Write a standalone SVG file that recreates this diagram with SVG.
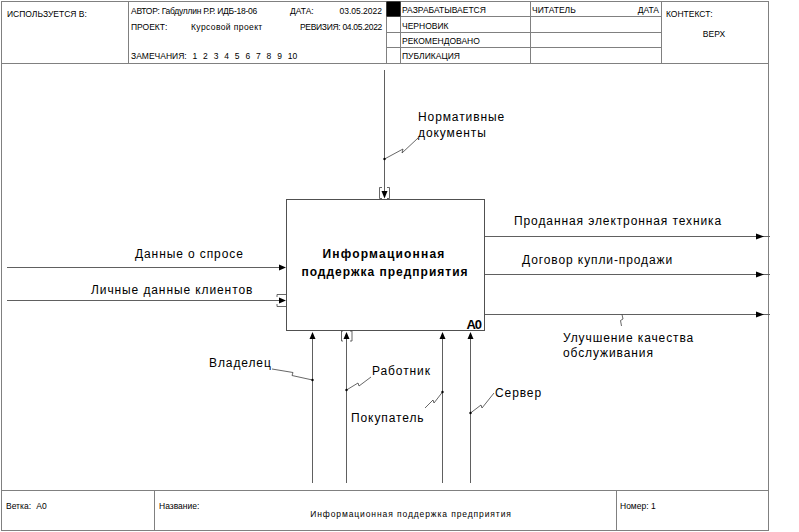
<svg xmlns="http://www.w3.org/2000/svg" width="799" height="532" viewBox="0 0 799 532">
<style>
.fr{fill:none;stroke:#808080;stroke-width:1}
.hd{font-family:"Liberation Sans",Arial,sans-serif;font-size:8.5px;fill:#000}
.lb{font-family:"Liberation Sans",Arial,sans-serif;font-size:12px;letter-spacing:0.9px;fill:#000}
.cn{fill:none;stroke:#606060;stroke-width:1}
.sq{fill:none;stroke:#404040;stroke-width:0.8}
.ah{fill:#000}
.br{fill:none;stroke:#404040;stroke-width:0.8}
</style>
<rect x="0" y="0" width="799" height="532" fill="#fff"/>
<g id="frame">
<rect class="fr" x="1.5" y="1.5" width="767" height="62"/>
<line class="fr" x1="128.5" y1="1.5" x2="128.5" y2="63.5"/>
<line class="fr" x1="386.5" y1="1.5" x2="386.5" y2="63.5"/>
<line class="fr" x1="400.5" y1="1.5" x2="400.5" y2="63.5"/>
<line class="fr" x1="530.5" y1="1.5" x2="530.5" y2="63.5"/>
<line class="fr" x1="661.5" y1="1.5" x2="661.5" y2="63.5"/>
<line class="fr" x1="386.5" y1="16.5" x2="661.5" y2="16.5"/>
<line class="fr" x1="386.5" y1="32.5" x2="661.5" y2="32.5"/>
<line class="fr" x1="386.5" y1="47.5" x2="661.5" y2="47.5"/>
<rect x="386.5" y="1.5" width="14" height="15" fill="#000"/>
<line class="fr" x1="1.5" y1="63.5" x2="1.5" y2="490.5"/>
<line class="fr" x1="768.5" y1="63.5" x2="768.5" y2="490.5"/>
<rect class="fr" x="1.5" y="490.5" width="767" height="40"/>
<line class="fr" x1="154.5" y1="490.5" x2="154.5" y2="530.5"/>
<line class="fr" x1="616.5" y1="490.5" x2="616.5" y2="530.5"/>
<text class="hd" x="7" y="17">ИСПОЛЬЗУЕТСЯ В:</text>
<text class="hd" x="131" y="14" letter-spacing="-0.25">АВТОР: Габдуллин Р.Р. ИДБ-18-06</text>
<text class="hd" x="290" y="14">ДАТА:</text>
<text class="hd" x="382" y="14" text-anchor="end">03.05.2022</text>
<text class="hd" x="131" y="30">ПРОЕКТ:</text>
<text class="hd" x="191" y="30" letter-spacing="0.4">Курсовой проект</text>
<text class="hd" x="382" y="30" text-anchor="end" letter-spacing="-0.3">РЕВИЗИЯ: 04.05.2022</text>
<text class="hd" x="131" y="59" word-spacing="3.5">ЗАМЕЧАНИЯ: 1 2 3 4 5 6 7 8 9 10</text>
<text class="hd" x="402" y="13">РАЗРАБАТЫВАЕТСЯ</text>
<text class="hd" x="402" y="29">ЧЕРНОВИК</text>
<text class="hd" x="402" y="44">РЕКОМЕНДОВАНО</text>
<text class="hd" x="402" y="59">ПУБЛИКАЦИЯ</text>
<text class="hd" x="532" y="13">ЧИТАТЕЛЬ</text>
<text class="hd" x="659" y="13" text-anchor="end">ДАТА</text>
<text class="hd" x="666" y="17">КОНТЕКСТ:</text>
<text class="hd" x="714" y="37" text-anchor="middle">ВЕРХ</text>
<text class="hd" x="6" y="509" word-spacing="3">Ветка: А0</text>
<text class="hd" x="159" y="509">Название:</text>
<text class="hd" x="411" y="517" text-anchor="middle" letter-spacing="0.9">Информационная поддержка предприятия</text>
<text class="hd" x="620" y="509">Номер: 1</text>
</g>
<g id="node-A0">
<rect x="286.5" y="199.5" width="198" height="131" fill="#fff" stroke="#505050" stroke-width="1"/>
<text x="384" y="258" text-anchor="middle" font-family="'Liberation Sans',Arial,sans-serif" font-size="12" font-weight="bold" letter-spacing="1.2">Информационная</text>
<text x="385" y="276" text-anchor="middle" font-family="'Liberation Sans',Arial,sans-serif" font-size="12" font-weight="bold" letter-spacing="1">поддержка предприятия</text>
<text x="481" y="329" text-anchor="end" font-family="'Liberation Sans',Arial,sans-serif" font-size="13" font-weight="bold" letter-spacing="-1">A0</text>
</g>
<g id="connectors">
<line class="cn" x1="384.5" y1="70" x2="384.5" y2="192"/>
<polygon class="ah" points="381.5,191 387.5,191 384.5,198.5"/>
<path class="br" d="M382,187.5 H379.5 V198.5 H382 M387,187.5 H389.5 V198.5 H387"/>
<path class="sq" d="M384.5,159 L403,149 L402,153 L418,138"/>
<circle cx="384.5" cy="159" r="1.2" fill="#000"/>
<text class="lb" x="418" y="121">Нормативные</text>
<text class="lb" x="418" y="137">документы</text>
<line class="cn" x1="7" y1="267.5" x2="280" y2="267.5"/>
<polygon class="ah" points="279,264.5 279,270.5 286,267.5"/>
<text class="lb" x="135" y="258">Данные о спросе</text>
<line class="cn" x1="7" y1="300.5" x2="280" y2="300.5"/>
<polygon class="ah" points="279,297.5 279,303.5 286,300.5"/>
<path class="br" d="M277,297 V294.5 H286 M277,304 V306.5 H286"/>
<text class="lb" x="91" y="294">Личные данные клиентов</text>
<line class="cn" x1="485" y1="236.5" x2="770" y2="236.5"/>
<polygon class="ah" points="756,233.5 756,239.5 764,236.5"/>
<text class="lb" x="514" y="225">Проданная электронная техника</text>
<line class="cn" x1="485" y1="274.5" x2="770" y2="274.5"/>
<polygon class="ah" points="756,271.5 756,277.5 764,274.5"/>
<text class="lb" x="522" y="264">Договор купли-продажи</text>
<line class="cn" x1="485" y1="314.5" x2="770" y2="314.5"/>
<polygon class="ah" points="756,311.5 756,317.5 764,314.5"/>
<path class="sq" d="M622,314.5 L623,319 L620.5,320.5 L621.5,326"/>
<text class="lb" x="563" y="342">Улучшение качества</text>
<text class="lb" x="563" y="357">обслуживания</text>
<line class="cn" x1="312.5" y1="483" x2="312.5" y2="338"/>
<polygon class="ah" points="309.5,339 315.5,339 312.5,332"/>
<path class="sq" d="M272,369 L293,372.5 L292,375.5 L312.5,380"/>
<circle cx="312.5" cy="380" r="1.2" fill="#000"/>
<text class="lb" x="209" y="367">Владелец</text>
<line class="cn" x1="346.5" y1="483" x2="346.5" y2="338"/>
<polygon class="ah" points="343.5,339 349.5,339 346.5,332"/>
<path class="br" d="M343,331 H341.5 V341 H343 M350,331 H352 V341 H350"/>
<path class="sq" d="M346.5,390 L358,383 L359,386 L371,377"/>
<circle cx="346.5" cy="390" r="1.2" fill="#000"/>
<text class="lb" x="372" y="375">Работник</text>
<line class="cn" x1="442.5" y1="483" x2="442.5" y2="338"/>
<polygon class="ah" points="439.5,339 445.5,339 442.5,332"/>
<path class="sq" d="M425,408 L433,400 L434,403 L442.5,392"/>
<circle cx="442.5" cy="392" r="1.2" fill="#000"/>
<text class="lb" x="351" y="422">Покупатель</text>
<line class="cn" x1="470.5" y1="483" x2="470.5" y2="338"/>
<polygon class="ah" points="467.5,339 473.5,339 470.5,332"/>
<path class="sq" d="M470.5,413 L481,405 L482,408 L494,393"/>
<circle cx="470.5" cy="413" r="1.2" fill="#000"/>
<text class="lb" x="495" y="397">Сервер</text>
</g>
</svg>
